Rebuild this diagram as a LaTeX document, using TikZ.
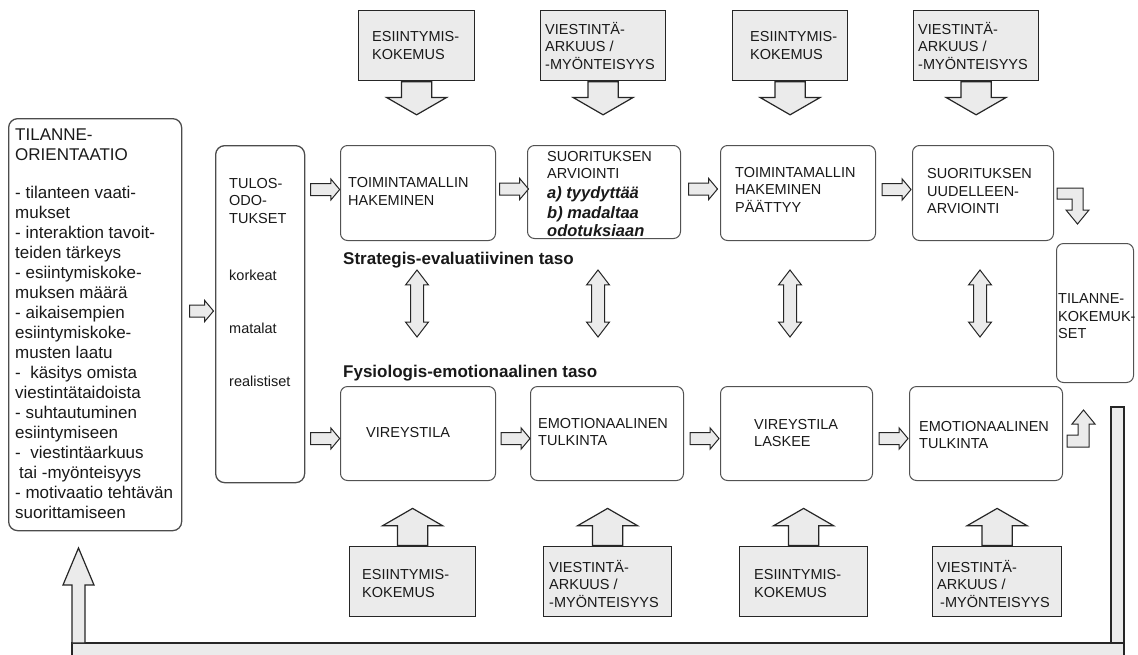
\documentclass[tikz,border=0pt]{standalone}
\usepackage{fontspec}
\setmainfont{Liberation Sans}
\usetikzlibrary{shapes.arrows,calc}

\definecolor{edgegray}{gray}{0.32}
\definecolor{fillgray}{gray}{0.92}
\definecolor{inkgray}{gray}{0.1}

\newcommand{\boxfont}{\fontsize{14.5}{17.5}\selectfont}
\newcommand{\orientfont}{\fontsize{17}{20}\selectfont}
\newcommand{\levelfont}{\fontsize{17}{20}\selectfont\bfseries}
\newcommand{\evalfont}{\fontsize{16.5}{20}\selectfont\bfseries\itshape}

\tikzset{
  stagebox/.style={draw=edgegray, line width=1pt, rounded corners=7pt, inner sep=0pt, anchor=north west},
  sidebox/.style={stagebox, draw=black!70, rounded corners=9pt, line width=1.3pt},
  inputbox/.style={draw=black!85, fill=fillgray, line width=1.2pt, inner sep=0pt, anchor=north west},
  boxtext/.style={anchor=west, align=left, inner sep=0pt, text=inkgray, font=\boxfont},
  leveltext/.style={anchor=west, inner sep=0pt, text=inkgray, font=\levelfont},
  flowarrow/.style={single arrow, draw=black!85, fill=fillgray, line width=1pt, inner sep=5.5pt,
    minimum height=29pt, single arrow head extend=4.5pt, single arrow tip angle=100},
  linkarrow/.style={double arrow, draw=black!85, fill=fillgray, line width=1pt, inner sep=6pt,
    shape border rotate=90, minimum height=67pt, double arrow head extend=5pt,
    double arrow tip angle=75},
  inarrow/.style={single arrow, draw=black!85, fill=fillgray, line width=1.2pt, inner xsep=14.5pt,
    inner ysep=0pt, single arrow head extend=15pt, single arrow tip angle=120, anchor=tail},
  bentarrow/.style={draw=black!85, fill=fillgray, line width=1pt, line join=miter}
}

\begin{document}
\begin{tikzpicture}[x=1pt, y=-1pt]
\useasboundingbox (0,0) rectangle (1138,654);

% feedback loop back to the left column
\draw[bentarrow, line width=1.2pt] (72,643) rectangle (1124,662);
\draw[bentarrow, line width=1.2pt] (1111,407) rectangle (1124,643);
\draw[bentarrow, line width=1.2pt] (72,643) -- (72,585) -- (63,585) -- (78.5,548) -- (94,585) -- (85,585) -- (85,643) -- cycle;

% left column
\node[sidebox, minimum width=173pt, minimum height=412pt] (orient) at (8,118) {};
\node[boxtext, anchor=north west, font=\orientfont] (orienttext) at (15,129) {TILANNE-\\ORIENTAATIO\\[18pt]- tilanteen vaati-\\mukset\\- interaktion tavoit-\\teiden tärkeys\\- esiintymiskoke-\\muksen määrä\\- aikaisempien\\esiintymiskoke-\\musten laatu\\-\ \ käsitys omista\\viestintätaidoista\\- suhtautuminen\\esiintymiseen\\-\ \ viestintäarkuus\\\hspace{4pt}tai -myönteisyys\\- motivaatio tehtävän\\suorittamiseen};
\node[sidebox, minimum width=89pt, minimum height=337pt] (tulos) at (215,145) {};
\node[boxtext, anchor=north west] (tulostext) at (229,178) {TULOS-\\ODO-\\TUKSET\\[40pt]korkeat\\[35pt]matalat\\[36pt]realistiset};
\node[flowarrow, minimum height=24pt] (orient-tulos) at (199,311) {};

% strategis-evaluatiivinen taso
\node[stagebox, minimum width=155pt, minimum height=95pt] (haku) at (340,145) {};
\node[stagebox, minimum width=153pt, minimum height=93pt] (arvio) at (527,145) {};
\node[stagebox, minimum width=155pt, minimum height=95pt] (paatos) at (720,145) {};
\node[stagebox, minimum width=141pt, minimum height=95pt] (uusarvio) at (912,145) {};
\node[boxtext] (hakutext) at ([xshift=8pt, yshift=1.5pt]haku.west) {TOIMINTAMALLIN\\HAKEMINEN};
\node[boxtext] (arviotext) at ([xshift=20pt, yshift=-2pt]arvio.west) {SUORITUKSEN\\ARVIOINTI\\[2pt]{\evalfont a) tyydyttää}\\[3pt]{\evalfont b) madaltaa}\\{\evalfont odotuksiaan}};
\node[boxtext] (paatostext) at ([xshift=15pt, yshift=3.5pt]paatos.west) {TOIMINTAMALLIN\\HAKEMINEN\\PÄÄTTYY};
\node[boxtext] (uusarviotext) at ([xshift=15pt, yshift=1.5pt]uusarvio.west) {SUORITUKSEN\\UUDELLEEN-\\ARVIOINTI};
\node[flowarrow, yshift=3.5pt] (tulos-haku) at ($(tulos.east |- haku.west)!0.5!(haku.west)$) {};
\node[flowarrow, yshift=3.5pt] (haku-arvio) at ($(haku.east)!0.5!(arvio.west)$) {};
\node[flowarrow, yshift=3.5pt] (arvio-paatos) at ($(arvio.east)!0.5!(paatos.west)$) {};
\node[flowarrow, yshift=3.5pt] (paatos-uusarvio) at ($(paatos.east)!0.5!(uusarvio.west)$) {};
\node[leveltext] (strat) at (343,260) {Strategis-evaluatiivinen taso};

% fysiologis-emotionaalinen taso
\node[stagebox, minimum width=155pt, minimum height=94pt] (vire) at (340,386) {};
\node[stagebox, minimum width=153pt, minimum height=94pt] (tulk) at (530,386) {};
\node[stagebox, minimum width=152pt, minimum height=94pt] (lasku) at (720,386) {};
\node[stagebox, minimum width=153pt, minimum height=94pt] (tulk2) at (909,386) {};
\node[boxtext] (viretext) at ([xshift=26pt, yshift=1pt]vire.west) {VIREYSTILA};
\node[boxtext] (tulktext) at ([xshift=8pt, yshift=1.5pt]tulk.west) {EMOTIONAALINEN\\TULKINTA};
\node[boxtext] (laskutext) at ([xshift=34pt, yshift=0.5pt]lasku.west) {VIREYSTILA\\LASKEE};
\node[boxtext] (tulk2text) at ([xshift=10pt, yshift=-1.5pt]tulk2.west) {EMOTIONAALINEN\\TULKINTA};
\node[flowarrow, yshift=-5pt] (tulos-vire) at ($(tulos.east |- vire.west)!0.5!(vire.west)$) {};
\node[flowarrow, yshift=-5pt] (vire-tulk) at ($(vire.east)!0.5!(tulk.west)$) {};
\node[flowarrow, yshift=-5pt] (tulk-lasku) at ($(tulk.east)!0.5!(lasku.west)$) {};
\node[flowarrow, yshift=-5pt] (lasku-tulk2) at ($(lasku.east)!0.5!(tulk2.west)$) {};
\node[leveltext] (fysio) at (343,373) {Fysiologis-emotionaalinen taso};

% links between the two levels
\foreach \x/\n in {417/1, 598/2, 790/3, 980/4}
  \node[linkarrow] (link\n) at (\x,303.5) {};

% tilannekokemukset
\node[stagebox, minimum width=77pt, minimum height=139pt] (kokem) at (1056,243) {};
\node[boxtext] (kokemtext) at ([xshift=2pt, yshift=-3.5pt]kokem.west) {TILANNE-\\KOKEMUK-\\SET};
\draw[bentarrow] (1057,188) -- (1083,188) -- (1083,210) -- (1089,210) -- (1077.5,224) -- (1066,210) -- (1072,210) -- (1072,199) -- (1057,199) -- cycle;
\draw[bentarrow] (1067,447) -- (1089,447) -- (1089,424) -- (1095,424) -- (1083.5,410) -- (1072,424) -- (1078,424) -- (1078,435) -- (1067,435) -- cycle;

% inputs from above
\node[inputbox, minimum width=116pt, minimum height=70pt] (kok1) at (358,10) {};
\node[inputbox, minimum width=125pt, minimum height=70pt] (ark1) at (540,10) {};
\node[inputbox, minimum width=115pt, minimum height=70pt] (kok2) at (732,10) {};
\node[inputbox, minimum width=125pt, minimum height=70pt] (ark2) at (913,10) {};
\node[boxtext] (kok1text) at ([xshift=14pt]kok1.west) {ESIINTYMIS-\\KOKEMUS};
\node[boxtext] (ark1text) at ([xshift=5pt]ark1.west) {VIESTINTÄ-\\ARKUUS /\\-MYÖNTEISYYS};
\node[boxtext] (kok2text) at ([xshift=18pt]kok2.west) {ESIINTYMIS-\\KOKEMUS};
\node[boxtext] (ark2text) at ([xshift=5pt]ark2.west) {VIESTINTÄ-\\ARKUUS /\\-MYÖNTEISYYS};
\node[inarrow, shape border rotate=270, minimum height=33pt] (kok1arrow) at (kok1.south) {};
\node[inarrow, shape border rotate=270, minimum height=33pt] (ark1arrow) at (ark1.south) {};
\node[inarrow, shape border rotate=270, minimum height=33pt] (kok2arrow) at (kok2.south) {};
\node[inarrow, shape border rotate=270, minimum height=33pt] (ark2arrow) at (ark2.south) {};

% inputs from below
\node[inputbox, minimum width=126pt, minimum height=70pt] (kok3) at (349,546) {};
\node[inputbox, minimum width=128pt, minimum height=70pt] (ark3) at (543,546) {};
\node[inputbox, minimum width=128pt, minimum height=70pt] (kok4) at (739,546) {};
\node[inputbox, minimum width=129pt, minimum height=70pt] (ark4) at (932,546) {};
\node[boxtext] (kok3text) at ([xshift=13pt, yshift=-2pt]kok3.west) {ESIINTYMIS-\\KOKEMUS};
\node[boxtext] (ark3text) at ([xshift=6pt, yshift=-2pt]ark3.west) {VIESTINTÄ-\\ARKUUS /\\-MYÖNTEISYYS};
\node[boxtext] (kok4text) at ([xshift=15pt, yshift=-2pt]kok4.west) {ESIINTYMIS-\\KOKEMUS};
\node[boxtext] (ark4text) at ([xshift=5pt, yshift=-2pt]ark4.west) {VIESTINTÄ-\\ARKUUS /\\\hspace{3pt}-MYÖNTEISYYS};
\node[inarrow, shape border rotate=90, minimum height=37pt] (kok3arrow) at (kok3.north) {};
\node[inarrow, shape border rotate=90, minimum height=37pt] (ark3arrow) at (ark3.north) {};
\node[inarrow, shape border rotate=90, minimum height=37pt] (kok4arrow) at (kok4.north) {};
\node[inarrow, shape border rotate=90, minimum height=37pt] (ark4arrow) at (ark4.north) {};
\end{tikzpicture}
\end{document}
